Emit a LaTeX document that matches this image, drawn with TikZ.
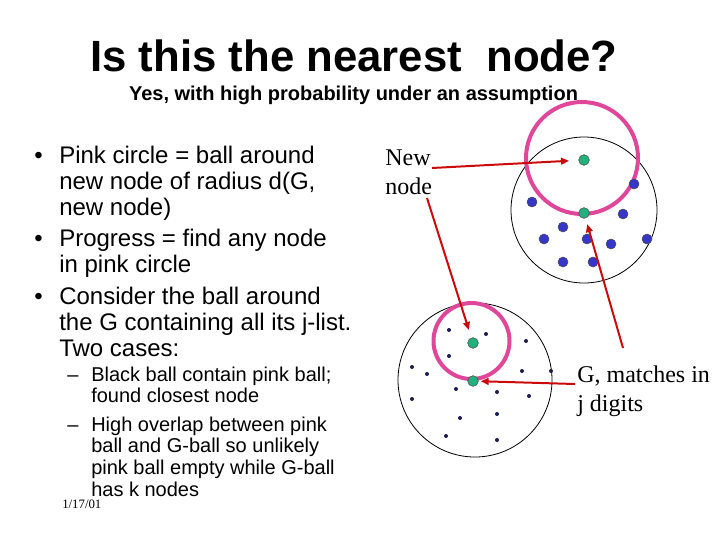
\documentclass[tikz,border=0pt]{standalone}
\usepackage{fontspec}
\setmainfont{Liberation Sans}
\newfontfamily\serifface{Liberation Serif}
\usetikzlibrary{arrows.meta}
\definecolor{ringpink}{HTML}{E0479A}
\definecolor{newgreen}{HTML}{22B07D}
\definecolor{listblue}{HTML}{3636C8}
\definecolor{navydot}{HTML}{1C1C50}
\definecolor{arrowred}{HTML}{CC0A0A}
\begin{document}
\begin{tikzpicture}[
    x=0.75pt, y=-0.75pt,
    titlelbl/.style={font=\fontsize{32.8}{36}\selectfont\bfseries, anchor=base, inner sep=0pt},
    sublbl/.style={font=\fontsize{15}{17}\selectfont\bfseries, anchor=base, inner sep=0pt},
    bultxt/.style={font=\fontsize{18}{19.5}\selectfont, anchor=base west, inner sep=0pt},
    subtxt/.style={font=\fontsize{15}{16}\selectfont, anchor=base west, inner sep=0pt},
    serlbl/.style={font=\serifface\fontsize{18}{21}\selectfont, anchor=base west, inner sep=0pt},
    datelbl/.style={font=\serifface\fontsize{9.6}{11}\selectfont, anchor=base west, inner sep=0pt},
    pinkball/.style={draw=ringpink, line width=3pt},
    gball/.style={draw=black, line width=0.6pt},
    newdot/.style={circle, draw=black!70, fill=newgreen, minimum size=8pt, inner sep=0pt},
    bluedot/.style={circle, draw=black!70, fill=listblue, minimum size=7.5pt, inner sep=0pt},
    tinydot/.style={circle, fill=navydot, minimum size=3pt, inner sep=0pt},
    redarrow/.style={draw=arrowred, line width=1.5pt, -{Triangle[length=6pt,width=5pt]}}
]
\useasboundingbox (0,0) rectangle (720,540);

%  -- Title  --
\node[titlelbl] (title) at (354,71) {Is this the nearest\ \ node?};
\node[sublbl] (subtitle) at (353.5,100) {Yes, with high probability under an assumption};

%  -- Bullet list  --
\foreach \ly [count=\i] in {163,246,304} {
  \node[bultxt] (blt\i) at (34,\ly) {\textbullet};
}
\foreach \ly/\lt [count=\i] in {163/{Pink circle = ball around}, 189/{new node of radius d(G,},
    215/{new node)}, 246/{Progress = find any node}, 272/{in pink circle},
    304/{Consider the ball around}, 330/{the G containing all its j-list.}, 356/{Two cases:}} {
  \node[bultxt] (bl\i) at (59,\ly) {\lt};
}
% Sub items
\foreach \ly [count=\i] in {381,431} {
  \node[subtxt] (dsh\i) at (67,\ly) {--};
}
\foreach \ly/\lt [count=\i] in {381/{Black ball contain pink ball;}, 402/{found closest node},
    431/{High overlap between pink}, 452/{ball and G-ball so unlikely},
    474/{pink ball empty while G-ball}, 496/{has k nodes}} {
  \node[subtxt] (sl\i) at (91,\ly) {\lt};
}
\node[datelbl] (date) at (62,508) {1/17/01};

%  -- Upper picture: new node far from G  --
\draw[gball] (584,210) circle [radius=73];
\draw[pinkball] (582,158) circle [radius=56];
\foreach \px/\py [count=\i] in {634/184, 532/202, 623/214, 563/227, 544/239,
    587/239, 611/244, 647/239, 563/262, 593/262} {
  \node[bluedot] (ua\i) at (\px,\py) {};
}
\node[newdot] (unew) at (584,160) {};
\node[newdot] (ug) at (584,213) {};

%  -- Lower picture: pink ball inside G-ball  --
\draw[gball] (475,380) circle [radius=77];
\draw[pinkball] (471.5,341) circle [radius=38];
\foreach \px/\py [count=\i] in {449/330, 486/334, 449/356, 526/341, 412/367, 427/374,
    522/371, 551/371, 456/389, 497/392, 529/396, 412/399, 460/418, 497/414,
    446/436, 497/440} {
  \node[tinydot] (la\i) at (\px,\py) {};
}
\node[newdot] (lnew) at (473,343) {};
\node[newdot] (lg) at (473,381) {};

%  -- Labels and arrows  --
\node[serlbl] (newlbl) at (385,165) {New};
\node[serlbl] (nodelbl) at (385,194) {node};
\node[serlbl] (glbl) at (577,382) {G, matches in};
\node[serlbl] (jlbl) at (577,411) {j digits};
\coordinate (newtail) at (432,168);
\coordinate (nodetail) at (427,198);
\coordinate (gtail) at (623,348);
\coordinate (jtail) at (575,384);
\draw[redarrow, shorten >=7pt] (newtail) -- (unew);
\draw[redarrow, shorten >=6pt] (nodetail) -- (lnew);
\draw[redarrow, shorten >=4.5pt] (gtail) -- (ug);
\draw[redarrow, shorten >=1.5pt] (jtail) -- (lg);

\end{tikzpicture}
\end{document}
